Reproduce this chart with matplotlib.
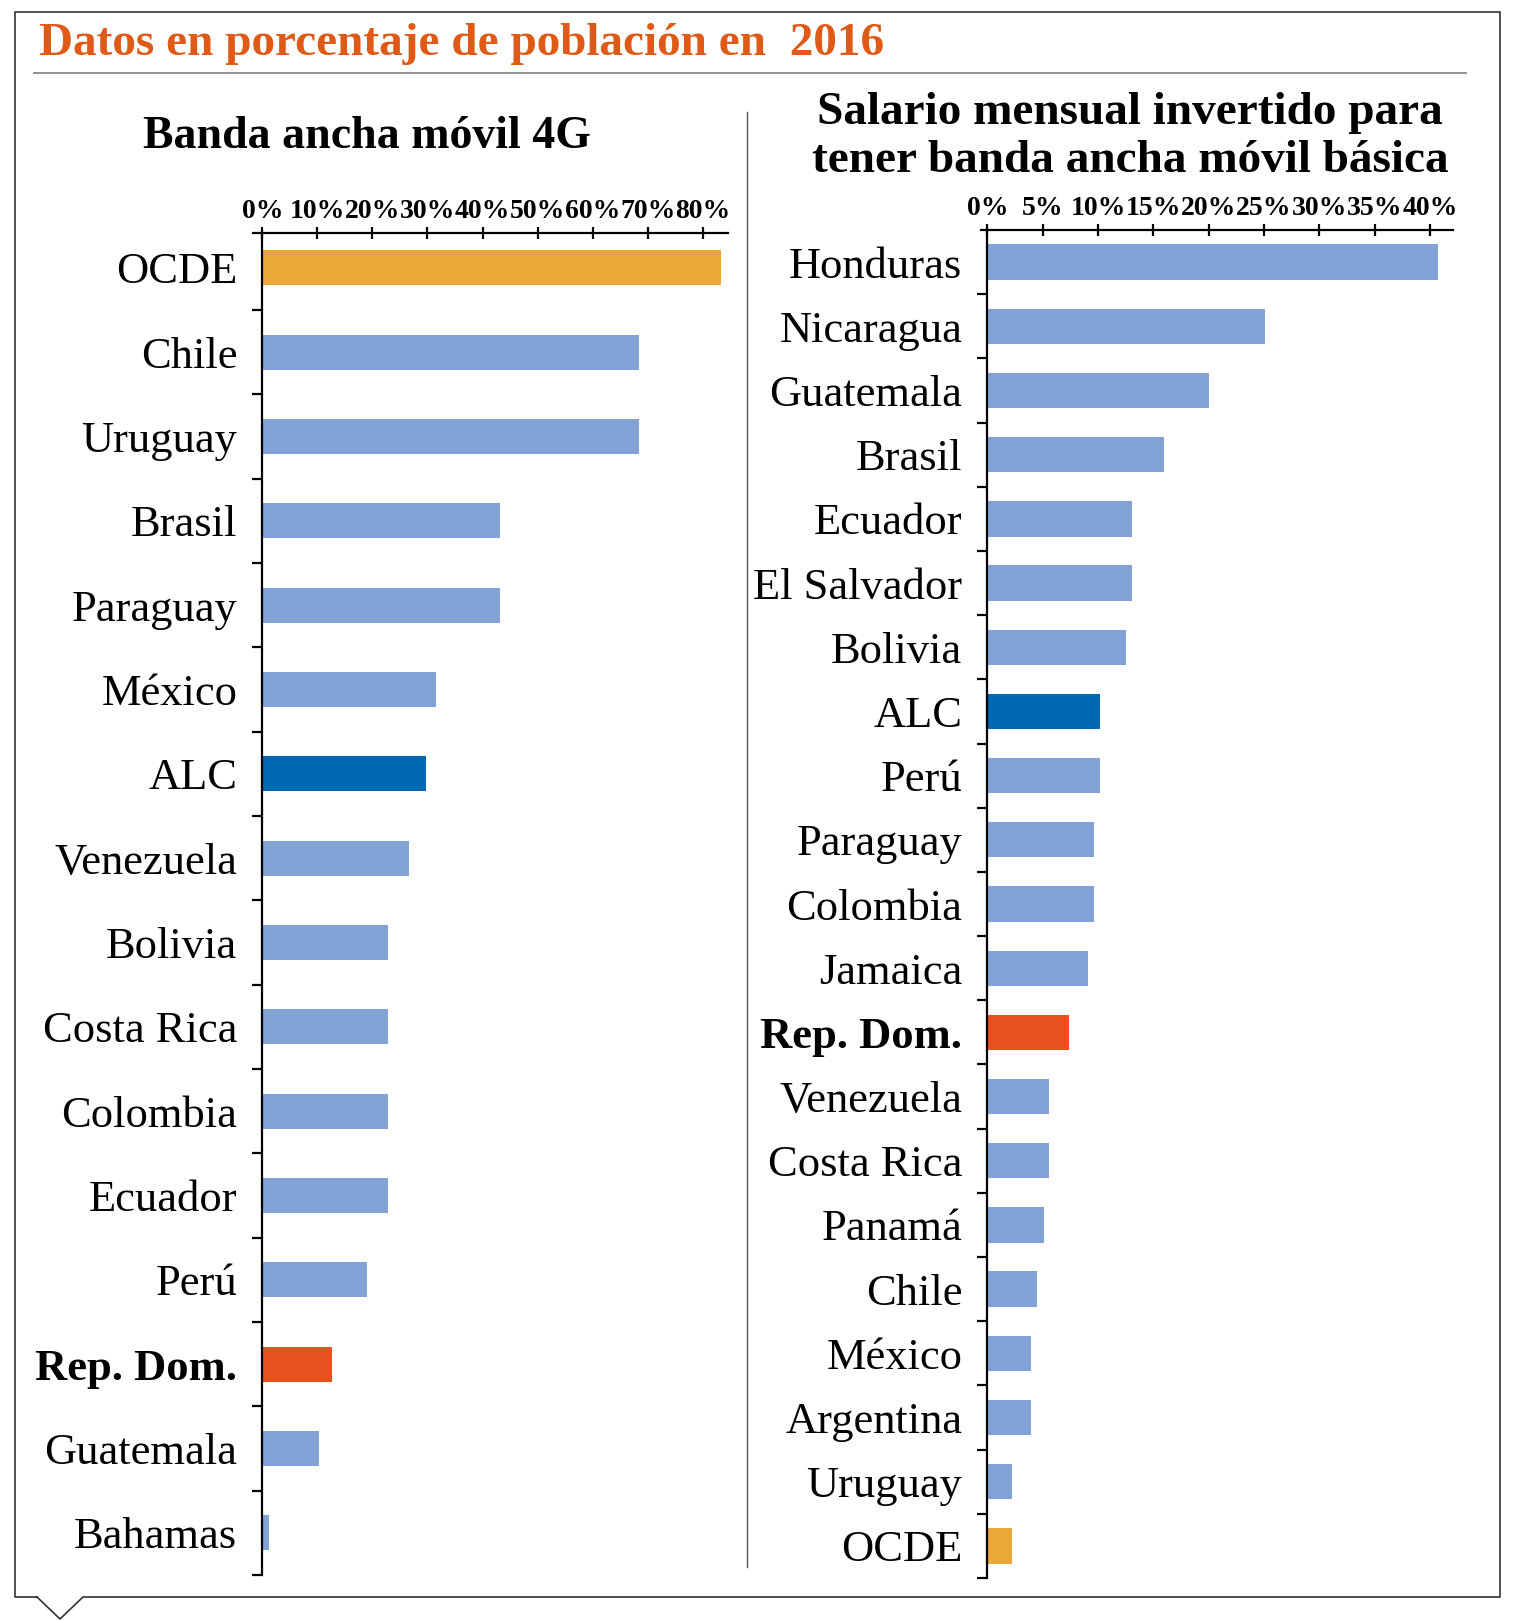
import numpy as np
import matplotlib.pyplot as plt
from matplotlib.lines import Line2D

# Data (percent)
left_countries = ['OCDE', 'Chile', 'Uruguay', 'Brasil', 'Paraguay', 'México', 'ALC',
                  'Venezuela', 'Bolivia', 'Costa Rica', 'Colombia', 'Ecuador', 'Perú',
                  'Rep. Dom.', 'Guatemala', 'Bahamas']
left_values = [83.3, 68.5, 68.5, 43.1, 43.1, 31.6, 29.8, 26.6, 22.8, 22.8, 22.8, 22.8,
               19.0, 12.7, 10.3, 1.2]
left_ticks = [0, 10, 20, 30, 40, 50, 60, 70, 80]

right_countries = ['Honduras', 'Nicaragua', 'Guatemala', 'Brasil', 'Ecuador', 'El Salvador',
                   'Bolivia', 'ALC', 'Perú', 'Paraguay', 'Colombia', 'Jamaica', 'Rep. Dom.',
                   'Venezuela', 'Costa Rica', 'Panamá', 'Chile', 'México', 'Argentina',
                   'Uruguay', 'OCDE']
right_values = [40.7, 25.1, 20.0, 16.0, 13.1, 13.1, 12.5, 10.2, 10.2, 9.6, 9.6, 9.1, 7.4,
                5.6, 5.6, 5.1, 4.5, 3.9, 3.9, 2.2, 2.2]
right_ticks = [0, 5, 10, 15, 20, 25, 30, 35, 40]

cor = {'blue': '#82A1D5', 'alc': '#0068B2', 'ocde': '#E9A837', 'rd': '#E8501D',
       'title': '#DF5A17'}
special = {'OCDE': cor['ocde'], 'ALC': cor['alc'], 'Rep. Dom.': cor['rd']}

serif = ['Liberation Serif', 'DejaVu Serif']
W, H = 1517, 1621
fig = plt.figure(figsize=(W / 100, H / 100), dpi=100)


def box(x0, y0, x1, y1):
    # pixel box (top-left origin) to figure fraction
    return [x0 / W, 1 - y1 / H, (x1 - x0) / W, (y1 - y0) / H]


def panel(rect, countries, values, ticks, xlim, ylim, height):
    ax = fig.add_axes(rect)
    y = np.arange(len(countries))
    colors = [special.get(c, cor['blue']) for c in countries]
    ax.barh(y, values, height=height, color=colors, zorder=2)
    ax.set_xlim(*xlim)
    ax.set_ylim(*ylim)
    for s in ['right', 'bottom']:
        ax.spines[s].set_visible(False)
    ax.spines['left'].set_position(('data', 0))
    ax.spines['left'].set_linewidth(1.6)
    ax.spines['top'].set_linewidth(1.6)
    ax.xaxis.tick_top()
    ax.set_xticks(ticks)
    ax.set_xticklabels([f'{t}%' for t in ticks], family=serif, fontsize=20,
                       fontweight='bold')
    ax.tick_params(axis='x', direction='inout', length=9, width=1.6, pad=2)
    ax.set_yticks(y)
    ax.set_yticklabels(countries, family=serif, fontsize=32)
    ax.tick_params(axis='y', which='major', length=0, pad=18)
    ax.set_yticks(np.arange(len(countries)) + 0.5, minor=True)
    ax.tick_params(axis='y', which='minor', direction='out', length=7, width=1.6)
    for lab in ax.get_yticklabels():
        if lab.get_text() == 'Rep. Dom.':
            lab.set_fontweight('bold')
    return ax


panel(box(253, 233, 728, 1575), left_countries, left_values, left_ticks,
      (-1.7, 84.6), (15.5, -0.415), 0.415)
panel(box(980.7, 230, 1453.3, 1578), right_countries, right_values, right_ticks,
      (-0.6, 42.1), (20.5, -0.5), 0.55)


def px_line(xs, ys, **kw):
    fig.add_artist(Line2D([x / W for x in xs], [1 - v / H for v in ys], **kw))


# speech-bubble frame
px_line([37, 15, 15, 1500, 1500, 83, 60, 37], [1597, 1597, 12, 12, 1597, 1597, 1619, 1597],
        color='#333333', lw=1.2)
# grey rule under the title
px_line([34, 1466], [73, 73], color='#8a8a8a', lw=1.3)
# separator between the panels
px_line([747, 747], [112, 1567], color='#555555', lw=1.0)

fig.text(39 / W, 1 - 44 / H, 'Datos en porcentaje de población en  2016', family=serif,
         fontsize=34, fontweight='bold', color=cor['title'], ha='left', va='center')
fig.text(367 / W, 1 - 137 / H, 'Banda ancha móvil 4G', family=serif, fontsize=33,
         fontweight='bold', ha='center', va='center')
fig.text(1130 / W, 1 - 137 / H, 'Salario mensual invertido para\ntener banda ancha móvil básica',
         family=serif, fontsize=34, fontweight='bold', ha='center', va='center',
         linespacing=1.17)

plt.savefig('out.png', dpi=100)
